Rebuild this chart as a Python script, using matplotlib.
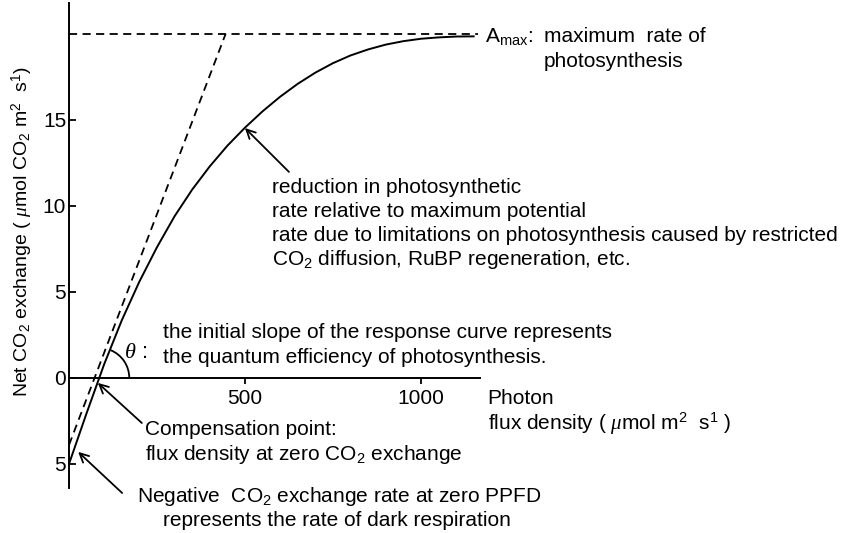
import math

import matplotlib
matplotlib.use("Agg")
import matplotlib.pyplot as plt
from matplotlib.patches import Arc

plt.rcParams['font.family'] = ['Liberation Sans', 'DejaVu Sans']
plt.rcParams['font.size'] = 15
plt.rcParams['mathtext.fontset'] = 'custom'
plt.rcParams['mathtext.rm'] = 'Liberation Sans'
plt.rcParams['mathtext.it'] = 'Liberation Serif:italic'
plt.rcParams['mathtext.bf'] = 'Liberation Sans:bold'

# light response curve
ppfd = [0, 50, 100, 150, 200, 250, 300, 350, 400, 450, 500, 550, 600, 650,
        700, 750, 800, 850, 900, 950, 1000, 1050, 1100, 1150]
net_co2 = [-5.0, -2.05, 0.8, 3.35, 5.6, 7.6, 9.4, 10.95, 12.3, 13.5, 14.55,
           15.5, 16.35, 17.1, 17.75, 18.3, 18.75, 19.1, 19.38, 19.58, 19.72,
           19.8, 19.85, 19.86]

# initial slope (dashed) and A_max level
slope_x = [0, 445]
slope_y = [-3.9, 20.0]
amax_x = [0, 1162]
amax_y = [20.0, 20.0]

yticks = [-5, 0, 5, 10, 15]
ytick_labels = ["5", "0", "5", "10", "15"]
xticks = [500, 1000]
xtick_labels = ["500", "1000"]

comp_point = 86

fig = plt.figure(figsize=(8.58, 5.33), dpi=100)
ax = fig.add_axes([69 / 858, 45 / 533, 411 / 858, 485 / 533])
ax.set_xlim(0, 1168)
ax.set_ylim(-6.4, 21.8)
# pixels per data unit
px_x = 411 / 1168
px_y = 485 / 28.2

ax.plot(ppfd, net_co2, color='black', lw=1.4, solid_joinstyle='round')
ax.plot(slope_x, slope_y, color='black', lw=1.3, ls=(0, (4.5, 3)))
ax.plot(amax_x, amax_y, color='black', lw=1.3, ls=(0, (4.5, 3)), clip_on=False)

for s in ['top', 'right']:
    ax.spines[s].set_visible(False)
ax.spines['bottom'].set_position(('data', 0))
ax.spines['left'].set_linewidth(1.4)
ax.spines['bottom'].set_linewidth(1.4)

ax.set_yticks(yticks)
ax.set_yticklabels(ytick_labels)
ax.set_xticks(xticks)
ax.set_xticklabels(xtick_labels)
ax.tick_params(axis='y', direction='in', length=5, width=1.3, pad=2)
ax.tick_params(axis='x', direction='out', length=4, width=1.3, pad=4)

# theta arc at compensation point (radius ~30 px, up to ~68 deg on screen)
theta2 = math.degrees(math.atan(math.tan(math.radians(68)) * px_x / px_y))
ax.add_patch(Arc((comp_point, 0), 2 * 30 / px_x, 2 * 30 / px_y,
                 theta1=0, theta2=theta2, color='black', lw=1.3))
ax.text(156, 1.45, r"$\theta$ :", va='center', ha='left', fontsize=16)
ax.text(267, 2.62, "the initial slope of the response curve represents",
        va='center', ha='left')
ax.text(267, 1.16, "the quantum efficiency of photosynthesis.",
        va='center', ha='left')

ax.text(1182, 19.83, r"A$_{\mathrm{max}}$:", va='center', ha='left')
ax.text(1349, 19.83, "maximum  rate of", va='center', ha='left')
ax.text(1349, 18.37, "photosynthesis", va='center', ha='left')

arrow = dict(arrowstyle='->', lw=1.3, color='black', mutation_scale=16,
             shrinkA=0, shrinkB=0)

ax.annotate("", xy=(500, 14.53), xytext=(625, 11.98), arrowprops=arrow)
ax.text(577, 11.05, "reduction in photosynthetic", va='center', ha='left')
ax.text(577, 9.65, "rate relative to maximum potential", va='center', ha='left')
ax.text(577, 8.26, "rate due to limitations on photosynthesis caused by restricted",
        va='center', ha='left')
ax.text(577, 6.86, r"CO$_2$ diffusion, RuBP regeneration, etc.",
        va='center', ha='left')

ax.text(1190, -1.22, "Photon", va='center', ha='left')
ax.text(1190, -2.67, r"flux density ( $\mu$mol m$^2$  s$^1$ )",
        va='center', ha='left')

ax.annotate("", xy=(82, -0.29), xytext=(207, -2.62), arrowprops=arrow)
ax.text(216, -3.02, "Compensation point:", va='center', ha='left')
ax.text(216, -4.48, r"flux density at zero CO$_2$ exchange",
        va='center', ha='left')

ax.annotate("", xy=(26, -4.30), xytext=(151, -6.69), arrowprops=arrow,
            annotation_clip=False)
ax.text(193, -6.92, r"Negative  CO$_2$ exchange rate at zero PPFD",
        va='center', ha='left')
ax.text(267, -8.31, "represents the rate of dark respiration",
        va='center', ha='left')

fig.text(22 / 858, 1 - 232 / 533,
         r"Net CO$_2$ exchange ( $\mu$mol CO$_2$ m$^2$  s$^1$)",
         rotation=90, va='center', ha='center', fontsize=14)

fig.savefig("out.png", dpi=100)
